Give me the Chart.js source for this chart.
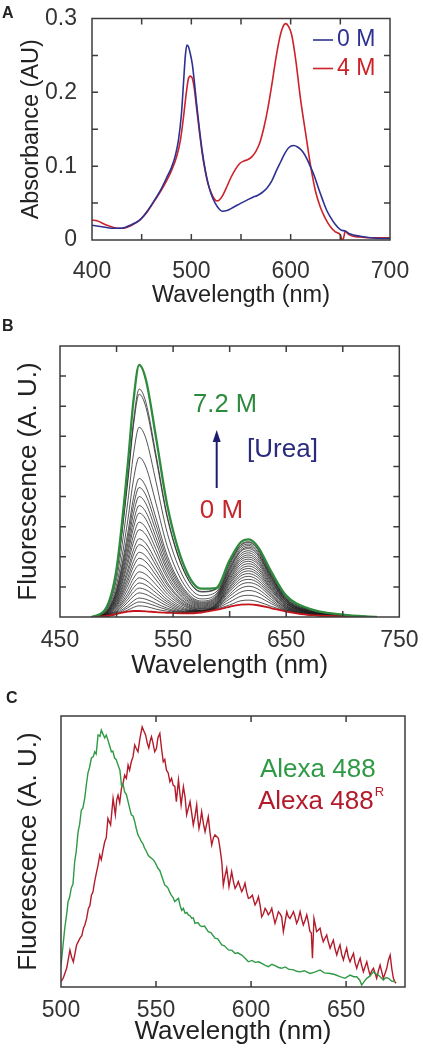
<!DOCTYPE html>
<html>
<head>
<meta charset="utf-8">
<script src="https://cdn.jsdelivr.net/npm/chart.js@4.4.1/dist/chart.umd.min.js"></script>
<style>
  body { margin: 0; background: #fff; font-family: 'Liberation Sans', Arial, sans-serif; }
  #wrap { position: relative; width: 423px; height: 1049px; overflow: hidden; }
  canvas { position: absolute; left: 0; }
  .tag { position: absolute; font-weight: bold; font-size: 16px; line-height: 16px; color: #222; }
</style>
</head>
<body>
<div id="wrap">
  <canvas id="chartA" width="423" height="310" style="top:0px"></canvas>
  <canvas id="chartB" width="423" height="380" style="top:310px"></canvas>
  <canvas id="chartC" width="423" height="359" style="top:690px"></canvas>
  <div class="tag" style="left:2px;top:5px">A</div>
  <div class="tag" style="left:2px;top:318px">B</div>
  <div class="tag" style="left:6px;top:690px">C</div>
</div>
<script>
// ---------- Panel A: absorbance, 0 M and 4 M ----------
const aBlueNm = [400, 410, 420, 430, 440, 448, 455, 462, 470, 475, 480, 484, 487, 490, 492, 494, 495.5, 497, 499, 501, 503, 505, 508, 511, 514, 517, 520, 524, 528, 531, 536, 542, 550, 556, 562, 566, 571, 576, 581, 586, 590, 594, 598, 603, 607, 612, 616, 620, 624, 628, 632, 636, 640, 645, 650, 655, 660, 670, 680, 690, 700];
const aBlue = [0.020, 0.018, 0.016, 0.016, 0.021, 0.027, 0.038, 0.052, 0.070, 0.084, 0.098, 0.115, 0.135, 0.170, 0.210, 0.250, 0.264, 0.262, 0.252, 0.238, 0.215, 0.188, 0.152, 0.120, 0.095, 0.076, 0.062, 0.050, 0.042, 0.039, 0.040, 0.044, 0.050, 0.054, 0.058, 0.060, 0.064, 0.070, 0.080, 0.095, 0.106, 0.117, 0.125, 0.128, 0.126, 0.120, 0.111, 0.099, 0.086, 0.070, 0.055, 0.041, 0.031, 0.021, 0.014, 0.012, 0.008, 0.005, 0.003, 0.002, 0.002];
const aRedNm = [400, 405, 415, 425, 432, 440, 448, 455, 462, 470, 475, 480, 485, 489, 492, 495, 497, 499, 501, 503, 505, 508, 511, 514, 517, 520, 523, 526, 528, 531, 535, 540, 545, 549, 553, 557, 561, 565, 569, 573, 577, 581, 585, 589, 592, 595, 598, 601, 605, 610, 615, 620, 625, 630, 635, 640, 645, 650, 652, 653.5, 655, 658, 663, 670, 680, 700];
const aRed = [0.027, 0.026, 0.020, 0.016, 0.016, 0.020, 0.027, 0.037, 0.051, 0.068, 0.080, 0.094, 0.112, 0.135, 0.165, 0.200, 0.218, 0.222, 0.219, 0.205, 0.182, 0.148, 0.117, 0.093, 0.075, 0.064, 0.056, 0.053, 0.054, 0.059, 0.070, 0.085, 0.097, 0.104, 0.107, 0.109, 0.113, 0.120, 0.132, 0.152, 0.178, 0.210, 0.245, 0.274, 0.288, 0.293, 0.289, 0.278, 0.245, 0.190, 0.145, 0.101, 0.066, 0.044, 0.029, 0.018, 0.011, 0.007, -0.001, 0.004, 0.012, 0.008, 0.005, 0.004, 0.003, 0.003];
const aXTicks = [400, 450, 500, 550, 600, 650, 700];
const aXLabels = [400, 500, 600, 700];
const aYTicks = [0, 0.05, 0.1, 0.15, 0.2, 0.25, 0.3];
const aYLabels = [0, 0.1, 0.2, 0.3];

// ---------- Panel B: fluorescence vs urea ----------
const bNm = [478, 490, 500, 510, 515, 520, 526, 535, 545, 560, 575, 588, 600, 610, 617, 625, 637, 650, 670, 700, 730];
const bHigh = [0, 0.25, 1.6, 5.1, 7.2, 8.37, 7.87, 5.94, 3.68, 1.67, 0.94, 0.96, 1.89, 2.49, 2.58, 2.33, 1.49, 0.71, 0.28, 0.08, 0];
const bLow = [0, 0.03, 0.1, 0.18, 0.2, 0.2, 0.19, 0.16, 0.14, 0.12, 0.15, 0.24, 0.34, 0.41, 0.42, 0.39, 0.29, 0.18, 0.07, 0.02, 0];
const bMiddle = [
  [0, 0.23, 1.51, 4.62, 6.51, 7.57, 7.12, 5.37, 3.33, 1.51, 0.85, 0.94, 1.81, 2.41, 2.5, 2.27, 1.45, 0.69, 0.27, 0.08, 0],
  [0, 0.22, 1.48, 4.51, 6.36, 7.4, 6.96, 5.25, 3.26, 1.48, 0.83, 0.92, 1.79, 2.38, 2.47, 2.25, 1.43, 0.68, 0.26, 0.07, 0],
  [0, 0.19, 1.26, 3.84, 5.42, 6.3, 5.92, 4.47, 2.77, 1.26, 0.71, 0.83, 1.73, 2.33, 2.42, 2.2, 1.39, 0.65, 0.24, 0.06, 0],
  [0, 0.16, 1.06, 3.23, 4.56, 5.3, 4.98, 3.76, 2.33, 1.06, 0.6, 0.76, 1.66, 2.27, 2.37, 2.15, 1.35, 0.62, 0.23, 0.05, 0],
  [0, 0.14, 0.92, 2.81, 3.96, 4.6, 4.32, 3.27, 2.02, 0.92, 0.53, 0.71, 1.61, 2.21, 2.32, 2.1, 1.32, 0.59, 0.21, 0.05, 0],
  [0, 0.13, 0.86, 2.62, 3.7, 4.3, 4.04, 3.05, 1.89, 0.86, 0.49, 0.67, 1.57, 2.18, 2.27, 2.06, 1.29, 0.58, 0.2, 0.04, 0],
  [0, 0.12, 0.8, 2.44, 3.44, 4.0, 3.76, 2.84, 1.76, 0.8, 0.46, 0.64, 1.51, 2.1, 2.2, 2.0, 1.25, 0.55, 0.19, 0.04, 0],
  [0, 0.11, 0.74, 2.26, 3.18, 3.7, 3.48, 2.63, 1.63, 0.74, 0.43, 0.61, 1.45, 2.03, 2.13, 1.93, 1.21, 0.53, 0.19, 0.04, 0],
  [0, 0.1, 0.69, 2.1, 2.97, 3.45, 3.24, 2.45, 1.52, 0.69, 0.4, 0.58, 1.41, 1.96, 2.06, 1.87, 1.17, 0.52, 0.17, 0.03, 0],
  [0, 0.09, 0.63, 1.92, 2.71, 3.15, 2.96, 2.24, 1.39, 0.63, 0.37, 0.55, 1.36, 1.9, 1.99, 1.81, 1.13, 0.5, 0.17, 0.03, 0],
  [0, 0.09, 0.58, 1.77, 2.49, 2.9, 2.73, 2.06, 1.28, 0.58, 0.34, 0.52, 1.3, 1.83, 1.92, 1.75, 1.08, 0.47, 0.16, 0.03, 0],
  [0, 0.08, 0.52, 1.59, 2.24, 2.6, 2.44, 1.85, 1.14, 0.52, 0.31, 0.49, 1.25, 1.76, 1.85, 1.67, 1.04, 0.45, 0.15, 0.03, 0],
  [0, 0.07, 0.48, 1.46, 2.06, 2.4, 2.26, 1.7, 1.06, 0.48, 0.28, 0.46, 1.19, 1.68, 1.77, 1.61, 0.99, 0.44, 0.14, 0.02, 0],
  [0, 0.06, 0.43, 1.31, 1.85, 2.15, 2.02, 1.53, 0.95, 0.43, 0.26, 0.43, 1.13, 1.6, 1.69, 1.54, 0.94, 0.41, 0.14, 0.02, 0],
  [0, 0.06, 0.39, 1.19, 1.68, 1.95, 1.83, 1.38, 0.86, 0.39, 0.23, 0.41, 1.08, 1.53, 1.61, 1.46, 0.91, 0.38, 0.13, 0.02, 0],
  [0, 0.05, 0.35, 1.06, 1.49, 1.73, 1.63, 1.23, 0.76, 0.35, 0.22, 0.4, 1.01, 1.45, 1.53, 1.39, 0.86, 0.37, 0.12, 0.02, 0],
  [0, 0.05, 0.3, 0.92, 1.29, 1.5, 1.41, 1.07, 0.66, 0.3, 0.21, 0.38, 0.96, 1.37, 1.44, 1.31, 0.8, 0.34, 0.11, 0.02, 0],
  [0, 0.04, 0.26, 0.79, 1.12, 1.3, 1.22, 0.92, 0.57, 0.26, 0.2, 0.36, 0.9, 1.28, 1.35, 1.22, 0.75, 0.32, 0.1, 0.02, 0],
  [0, 0.03, 0.23, 0.69, 0.97, 1.13, 1.06, 0.8, 0.5, 0.23, 0.2, 0.34, 0.84, 1.19, 1.25, 1.14, 0.7, 0.29, 0.09, 0.02, 0],
  [0, 0.03, 0.19, 0.59, 0.83, 0.96, 0.9, 0.68, 0.43, 0.2, 0.19, 0.32, 0.76, 1.08, 1.14, 1.05, 0.65, 0.28, 0.09, 0.02, 0],
  [0, 0.02, 0.16, 0.49, 0.69, 0.8, 0.75, 0.57, 0.36, 0.18, 0.19, 0.31, 0.69, 0.96, 1.02, 0.93, 0.58, 0.25, 0.08, 0.02, 0],
  [0, 0.02, 0.13, 0.38, 0.54, 0.63, 0.59, 0.45, 0.29, 0.16, 0.18, 0.3, 0.6, 0.83, 0.88, 0.81, 0.51, 0.23, 0.07, 0.02, 0],
  [0, 0.02, 0.1, 0.31, 0.43, 0.5, 0.47, 0.36, 0.24, 0.15, 0.17, 0.28, 0.5, 0.69, 0.72, 0.67, 0.44, 0.21, 0.07, 0.02, 0],
  [0, 0.01, 0.09, 0.23, 0.32, 0.37, 0.35, 0.26, 0.19, 0.14, 0.16, 0.26, 0.4, 0.54, 0.56, 0.51, 0.35, 0.2, 0.07, 0.02, 0]
];
const bXTicks = [450, 500, 550, 600, 650, 700, 750];
const bXLabels = [450, 550, 650, 750];
const bYTicks = [0, 1, 2, 3, 4, 5, 6, 7, 8, 9];

// ---------- Panel C: Alexa 488 vs Alexa 488R ----------
const cGreenNm = [500, 502, 503, 503.7, 504.5, 505.4, 506.3, 507.2, 508, 509, 509.8, 510.7, 511.5, 512.5, 513.4, 514.2, 515, 516, 517, 517.7, 518.5, 519.5, 520.5, 521.2, 522, 523, 523.8, 524.7, 525.6, 526.5, 527.3, 528.2, 529, 530, 531, 531.8, 532.6, 533.5, 534.4, 535.3, 536.1, 537, 538, 538.8, 539.6, 540.5, 541.4, 542.3, 543, 544, 545, 545.8, 546.7, 547.6, 548.5, 549.3, 550.2, 551, 552, 552.8, 553.7, 554.6, 555.5, 556.3, 557.2, 558, 559, 559.8, 561.8, 562.7, 563.5, 564.4, 565.3, 566.2, 567, 568, 568.8, 569.6, 570.5, 572, 573, 574, 575.5, 577.5, 579, 581, 582.5, 584.6, 586, 588.1, 590, 591.6, 593, 595.1, 597, 598.6, 600.5, 602.1, 604, 605.6, 607.5, 609.1, 611, 612.6, 614.5, 616.1, 618, 619.7, 622.3, 624, 625.8, 628, 631, 633.5, 636.3, 638.5, 641.6, 644, 646.8, 649.4, 652.1, 654, 655.6, 657.2, 658.2, 659.5, 660.9, 662.5, 664.4, 665.6, 667, 669.6, 671, 672.3, 674, 675.8];
const cGreen = [0.08, 0.218, 0.27, 0.315, 0.33, 0.365, 0.38, 0.462, 0.5, 0.573, 0.6, 0.653, 0.66, 0.697, 0.75, 0.79, 0.81, 0.845, 0.85, 0.868, 0.86, 0.93, 0.925, 0.948, 0.935, 0.919, 0.93, 0.911, 0.89, 0.868, 0.87, 0.845, 0.84, 0.819, 0.8, 0.745, 0.75, 0.72, 0.71, 0.684, 0.66, 0.635, 0.63, 0.61, 0.585, 0.561, 0.55, 0.536, 0.53, 0.512, 0.5, 0.487, 0.48, 0.475, 0.47, 0.462, 0.45, 0.438, 0.43, 0.413, 0.395, 0.376, 0.372, 0.365, 0.35, 0.339, 0.33, 0.315, 0.327, 0.3, 0.283, 0.29, 0.272, 0.275, 0.266, 0.262, 0.253, 0.255, 0.235, 0.238, 0.228, 0.223, 0.225, 0.204, 0.2, 0.18, 0.178, 0.155, 0.152, 0.137, 0.135, 0.124, 0.126, 0.118, 0.105, 0.093, 0.098, 0.091, 0.093, 0.087, 0.08, 0.075, 0.084, 0.079, 0.072, 0.069, 0.074, 0.066, 0.063, 0.058, 0.056, 0.06, 0.05, 0.055, 0.063, 0.052, 0.05, 0.046, 0.038, 0.032, 0.044, 0.038, 0.038, 0.025, 0.007, 0.02, 0.032, 0.04, 0.056, 0.048, 0.044, 0.026, 0.035, 0.032, 0.022, 0.02];
const cRedNm = [500, 501.2, 503, 504.7, 505.6, 506.5, 508.2, 510, 511, 511.8, 512.6, 513.5, 514.4, 515.2, 516, 516.8, 517.7, 518.6, 519.5, 520.4, 521.2, 522.1, 523, 523.8, 524.7, 526.1, 527.4, 528.6, 529.3, 530, 530.9, 531.8, 532.6, 533.5, 534.4, 535.3, 536.1, 537, 537.9, 538.8, 539.6, 540.5, 541.6, 542.7, 543.6, 544.5, 545.4, 546.2, 547, 547.6, 548.4, 549.3, 550.2, 551, 552, 552.9, 553.8, 554.6, 555.5, 556.4, 557.3, 558.2, 559, 559.9, 560.7, 561.8, 563.2, 564.4, 565.3, 566.1, 567, 567.9, 568.8, 569.6, 570.5, 571.4, 572, 572.6, 573.3, 574, 575, 575.8, 576.6, 577.5, 578.4, 579.3, 580.2, 581, 581.9, 582.8, 583.7, 584.6, 585.4, 586.3, 587.2, 588.4, 589.8, 590.7, 591.6, 592.5, 593.3, 594.2, 595.1, 596, 596.8, 597.7, 598.6, 599.6, 600.7, 601.4, 602.1, 603, 603.9, 604.8, 605.6, 606.5, 607.4, 608.3, 609.1, 610, 610.9, 611.8, 612.6, 613.5, 614.4, 615.3, 616.1, 617, 617.9, 618.8, 619.6, 620.5, 621.4, 622.3, 623.1, 624, 624.9, 625.8, 626.7, 627.5, 628.4, 629.3, 630.1, 631, 631.7, 632.3, 633.1, 633.8, 634.5, 635.4, 636.3, 637.1, 638, 638.9, 639.8, 640.7, 641.6, 642.5, 643.3, 644.2, 645.1, 646, 646.8, 647.7, 648.6, 649.5, 650.3, 651.2, 652.1, 653, 653.9, 654.7, 655.6, 656.5, 657.4, 658.2, 659.1, 660, 660.9, 661.8, 662.6, 663.5, 664.4, 665.3, 666.1, 667, 667.9, 668.8, 669.6, 670.5, 671.4, 672.3, 673.2, 674, 674.9, 675.6, 676.3];
const cRed = [0.02, 0.033, 0.07, 0.136, 0.11, 0.093, 0.155, 0.18, 0.19, 0.217, 0.23, 0.253, 0.29, 0.3, 0.339, 0.35, 0.389, 0.42, 0.45, 0.487, 0.47, 0.505, 0.536, 0.55, 0.622, 0.598, 0.696, 0.635, 0.69, 0.708, 0.68, 0.733, 0.75, 0.782, 0.77, 0.819, 0.8, 0.831, 0.85, 0.893, 0.88, 0.868, 0.92, 0.96, 0.945, 0.93, 0.9, 0.882, 0.91, 0.924, 0.9, 0.868, 0.88, 0.92, 0.936, 0.88, 0.831, 0.84, 0.8, 0.79, 0.757, 0.77, 0.745, 0.74, 0.684, 0.764, 0.672, 0.739, 0.7, 0.635, 0.66, 0.684, 0.64, 0.598, 0.63, 0.672, 0.62, 0.585, 0.61, 0.647, 0.6, 0.573, 0.6, 0.628, 0.57, 0.524, 0.55, 0.561, 0.555, 0.549, 0.51, 0.462, 0.376, 0.41, 0.438, 0.37, 0.425, 0.39, 0.364, 0.375, 0.389, 0.37, 0.352, 0.365, 0.383, 0.35, 0.327, 0.33, 0.339, 0.32, 0.303, 0.315, 0.333, 0.3, 0.259, 0.27, 0.29, 0.28, 0.266, 0.275, 0.29, 0.26, 0.235, 0.255, 0.278, 0.27, 0.259, 0.204, 0.24, 0.278, 0.26, 0.253, 0.265, 0.278, 0.26, 0.235, 0.25, 0.278, 0.25, 0.229, 0.245, 0.266, 0.24, 0.204, 0.2, 0.106, 0.253, 0.23, 0.204, 0.21, 0.217, 0.19, 0.167, 0.18, 0.192, 0.165, 0.143, 0.16, 0.173, 0.14, 0.118, 0.14, 0.155, 0.12, 0.1, 0.125, 0.143, 0.11, 0.093, 0.11, 0.124, 0.09, 0.069, 0.09, 0.106, 0.08, 0.056, 0.075, 0.093, 0.065, 0.044, 0.06, 0.069, 0.05, 0.032, 0.06, 0.081, 0.055, 0.032, 0.05, 0.069, 0.1, 0.118, 0.07, 0.032, 0.02, 0.014];
const cXTicks = [500, 550, 600, 650];

Chart.defaults.font.family = "'Liberation Sans', Arial, sans-serif";

function xy(xs, ys) {
  return xs.map((x, i) => ({ x: x, y: ys[i] }));
}

function axis(o) {
  return {
    type: 'linear',
    min: o.min,
    max: o.max,
    grid: { display: false },
    border: { display: false },
    afterBuildTicks: s => { s.ticks = o.ticks.map(v => ({ value: v })); },
    afterFit: s => {
      if (o.width) s.width = o.width;
      if (o.height) s.height = o.height;
    },
    ticks: {
      display: o.labels.length > 0,
      autoSkip: false,
      maxRotation: 0,
      padding: o.pad,
      color: '#333',
      font: { size: 23, lineHeight: 1 },
      callback: v => o.labels.includes(v) ? String(v) : ''
    },
    title: {
      display: true,
      text: o.title,
      color: '#222',
      font: { size: o.titleSize, lineHeight: 1 },
      padding: o.titlePad
    }
  };
}

// box around the plot with inward tick marks on all sides
const framePlugin = {
  id: 'frame',
  afterDraw(chart, args, opts) {
    const { ctx, chartArea: a } = chart;
    const len = 6;
    ctx.save();
    ctx.strokeStyle = '#3c3c3c';
    ctx.lineWidth = 1.5;
    ctx.beginPath();
    chart.scales.x.ticks.forEach(t => {
      if (t.value <= chart.scales.x.min || t.value >= chart.scales.x.max) return;
      const px = chart.scales.x.getPixelForValue(t.value);
      ctx.moveTo(px, a.bottom); ctx.lineTo(px, a.bottom - len);
      ctx.moveTo(px, a.top); ctx.lineTo(px, a.top + len);
    });
    if (opts.yTicks !== false) {
      chart.scales.y.ticks.forEach(t => {
        if (t.value <= chart.scales.y.min || t.value >= chart.scales.y.max) return;
        const py = chart.scales.y.getPixelForValue(t.value);
        ctx.moveTo(a.left, py); ctx.lineTo(a.left + len, py);
        ctx.moveTo(a.right, py); ctx.lineTo(a.right - len, py);
      });
    }
    ctx.stroke();
    ctx.strokeRect(a.left, a.top, a.right - a.left, a.bottom - a.top);
    ctx.restore();
  }
};

// free text, legend keys and the urea arrow
const notesPlugin = {
  id: 'notes',
  afterDraw(chart, args, opts) {
    const ctx = chart.ctx;
    ctx.save();
    ctx.textBaseline = 'middle';
    (opts.items || []).forEach(it => {
      ctx.font = it.font;
      ctx.fillStyle = it.color;
      ctx.textAlign = it.align || 'left';
      ctx.fillText(it.text, it.x, it.y);
      if (it.key) {
        ctx.strokeStyle = it.color;
        ctx.lineWidth = 1.6;
        ctx.beginPath();
        ctx.moveTo(it.key[0], it.y);
        ctx.lineTo(it.key[1], it.y);
        ctx.stroke();
      }
      if (it.sup) {
        const w = ctx.measureText(it.text).width;
        ctx.font = '13px "Liberation Sans", Arial, sans-serif';
        ctx.fillText(it.sup, it.x + w + 1, it.y - 10);
      }
    });
    if (opts.arrow) {
      const ar = opts.arrow;
      ctx.strokeStyle = ar.color;
      ctx.fillStyle = ar.color;
      ctx.lineWidth = 2;
      ctx.beginPath();
      ctx.moveTo(ar.x, ar.y1);
      ctx.lineTo(ar.x, ar.y2 + 10);
      ctx.stroke();
      ctx.beginPath();
      ctx.moveTo(ar.x, ar.y2);
      ctx.lineTo(ar.x - 4, ar.y2 + 12);
      ctx.lineTo(ar.x + 4, ar.y2 + 12);
      ctx.closePath();
      ctx.fill();
    }
    ctx.restore();
  }
};

function line(label, data, color, width, smooth) {
  return {
    label: label,
    data: data,
    borderColor: color,
    borderWidth: width,
    pointRadius: 0,
    fill: false,
    cubicInterpolationMode: smooth ? 'monotone' : 'default',
    tension: 0
  };
}

const baseOptions = (pad, scales, plugins) => ({
  responsive: false,
  animation: false,
  events: [],
  layout: { autoPadding: false, padding: pad },
  scales: scales,
  plugins: Object.assign({ legend: { display: false }, tooltip: { enabled: false } }, plugins)
});

// Panel A
new Chart(document.getElementById('chartA'), {
  type: 'line',
  data: {
    datasets: [
      line('0 M', xy(aBlueNm, aBlue), '#2d3192', 1.6, true),
      line('4 M', xy(aRedNm, aRed), '#cc2229', 1.6, true)
    ]
  },
  options: baseOptions({ left: 0, top: 13, right: 33, bottom: 0 }, {
    x: axis({ min: 400, max: 700, ticks: aXTicks, labels: aXLabels, pad: 12, height: 70,
      title: 'Wavelength (nm)', titleSize: 23.5, titlePad: { top: 0, bottom: 3 } }),
    y: axis({ min: 0, max: 0.3, ticks: aYTicks, labels: aYLabels, pad: 7, width: 92,
      title: 'Absorbance (AU)', titleSize: 23.5, titlePad: { top: 20, bottom: 0 } })
  }, {
    frame: {},
    notes: {
      items: [
        { text: '0 M', x: 337, y: 40, color: '#2d3192', font: '23px "Liberation Sans", Arial, sans-serif', key: [313, 333] },
        { text: '4 M', x: 337, y: 68.5, color: '#cc2229', font: '23px "Liberation Sans", Arial, sans-serif', key: [313, 333] }
      ]
    }
  }),
  plugins: [framePlugin, notesPlugin]
});

// Panel B
const bSets = [
  line('7.2 M', xy(bNm, bHigh), '#2e8b3e', 2.3, true),
  line('0 M', xy(bNm, bLow), '#c4161c', 1.8, true)
];
bMiddle.forEach((ys, i) => bSets.push(line('c' + i, xy(bNm, ys), 'rgba(30,30,30,0.85)', 0.9, true)));

new Chart(document.getElementById('chartB'), {
  type: 'line',
  data: { datasets: bSets },
  options: baseOptions({ left: 0, top: 36, right: 18, bottom: 0 }, {
    x: axis({ min: 450, max: 750, ticks: bXTicks, labels: bXLabels, pad: 4.5, height: 73,
      title: 'Wavelength (nm)', titleSize: 26, titlePad: { top: 0, bottom: 11 } }),
    y: axis({ min: 0, max: 9, ticks: bYTicks, labels: [], pad: 0, width: 60,
      title: 'Fluorescence (A. U.)', titleSize: 26, titlePad: { top: 15.5, bottom: 0 } })
  }, {
    frame: {},
    notes: {
      items: [
        { text: '7.2 M', x: 225, y: 95, align: 'center', color: '#2e8b3e', font: '25.5px "Liberation Sans", Arial, sans-serif' },
        { text: '[Urea]', x: 282.5, y: 140, align: 'center', color: '#2b2b7d', font: '26px "Liberation Sans", Arial, sans-serif' },
        { text: '0 M', x: 221.5, y: 201, align: 'center', color: '#c4282d', font: '26px "Liberation Sans", Arial, sans-serif' }
      ],
      arrow: { x: 216.7, y1: 178, y2: 120, color: '#1d1d6e' }
    }
  }),
  plugins: [framePlugin, notesPlugin]
});

// Panel C
new Chart(document.getElementById('chartC'), {
  type: 'line',
  data: {
    datasets: [
      line('Alexa 488', xy(cGreenNm, cGreen), '#2f9a45', 1.4, false),
      line('Alexa 488R', xy(cRedNm, cRed), '#b31b2a', 1.4, false)
    ]
  },
  options: baseOptions({ left: 0, top: 26, right: 18, bottom: 0 }, {
    x: axis({ min: 500, max: 681, ticks: cXTicks, labels: cXTicks, pad: 4, height: 62,
      title: 'Wavelength (nm)', titleSize: 26, titlePad: { top: 0, bottom: 4 } }),
    y: axis({ min: 0, max: 1, ticks: [0, 1], labels: [], pad: 0, width: 61,
      title: 'Fluorescence (A. U.)', titleSize: 26, titlePad: { top: 15.5, bottom: 0 } })
  }, {
    frame: { yTicks: false },
    notes: {
      items: [
        { text: 'Alexa 488', x: 260, y: 80, color: '#2f9a45', font: '26px "Liberation Sans", Arial, sans-serif' },
        { text: 'Alexa 488', x: 258, y: 112, color: '#b31b2a', font: '26px "Liberation Sans", Arial, sans-serif', sup: 'R' }
      ]
    }
  }),
  plugins: [framePlugin, notesPlugin]
});
</script>
</body>
</html>
